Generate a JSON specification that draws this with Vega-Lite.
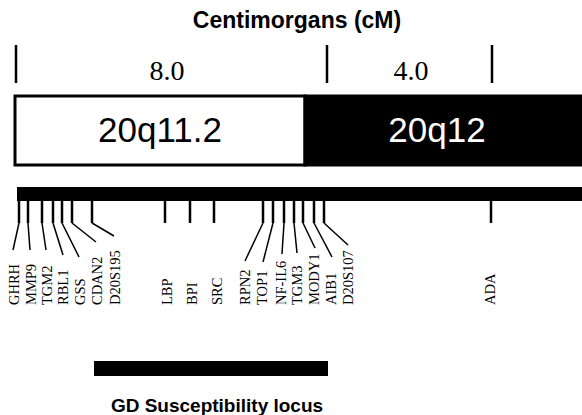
{
  "$schema": "https://vega.github.io/schema/vega-lite/v6.json",
  "width": 582,
  "height": 415,
  "padding": 0,
  "autosize": {"type": "none"},
  "background": "white",
  "config": {"view": {"stroke": null}},
  "datasets": {
    "heading": [{"label": "Centimorgans (cM)", "pos": 297}],
    "cmTicks": [{"cM": 0, "pos": 16}, {"cM": 8, "pos": 327}, {"cM": 12, "pos": 492}],
    "intervals": [{"span": "8.0", "pos": 167}, {"span": "4.0", "pos": 411}],
    "bands": [
      {"band": "20q11.2", "start": 15, "end": 305, "mid": 160},
      {"band": "20q12", "start": 305, "end": 590, "mid": 437}
    ],
    "chromosome": [{"feature": "20q", "start": 17, "end": 590}],
    "markers": [
      {"gene": "GHRH", "tick": 19, "labelPos": 15},
      {"gene": "MMP9", "tick": 28, "labelPos": 32},
      {"gene": "TGM2", "tick": 42, "labelPos": 48},
      {"gene": "RBL1", "tick": 53, "labelPos": 64},
      {"gene": "GSS", "tick": 62, "labelPos": 81},
      {"gene": "CDAN2", "tick": 72, "labelPos": 98},
      {"gene": "D20S195", "tick": 92, "labelPos": 116},
      {"gene": "LBP", "tick": 165, "labelPos": 168},
      {"gene": "BPI", "tick": 190, "labelPos": 193},
      {"gene": "SRC", "tick": 214, "labelPos": 218},
      {"gene": "RPN2", "tick": 263, "labelPos": 246},
      {"gene": "TOP1", "tick": 273, "labelPos": 263},
      {"gene": "NF-IL6", "tick": 284, "labelPos": 282},
      {"gene": "TGM3", "tick": 294, "labelPos": 298},
      {"gene": "MODY1", "tick": 303, "labelPos": 315},
      {"gene": "AIB1", "tick": 314, "labelPos": 332},
      {"gene": "D20S107", "tick": 324, "labelPos": 349},
      {"gene": "ADA", "tick": 491, "labelPos": 491}
    ],
    "leaders": [
      {"gene": "GHRH", "tick": 19, "end": 13, "bend": 250},
      {"gene": "MMP9", "tick": 28, "end": 30, "bend": 250},
      {"gene": "TGM2", "tick": 42, "end": 46, "bend": 250},
      {"gene": "RBL1", "tick": 53, "end": 63, "bend": 255},
      {"gene": "GSS", "tick": 62, "end": 79, "bend": 257},
      {"gene": "CDAN2", "tick": 72, "end": 96, "bend": 242},
      {"gene": "D20S195", "tick": 92, "end": 114, "bend": 236},
      {"gene": "RPN2", "tick": 263, "end": 245, "bend": 261},
      {"gene": "TOP1", "tick": 273, "end": 263, "bend": 262},
      {"gene": "NF-IL6", "tick": 284, "end": 282, "bend": 254},
      {"gene": "TGM3", "tick": 294, "end": 297, "bend": 253},
      {"gene": "MODY1", "tick": 303, "end": 315, "bend": 248},
      {"gene": "AIB1", "tick": 314, "end": 332, "bend": 257},
      {"gene": "D20S107", "tick": 324, "end": 348, "bend": 245}
    ],
    "locus": [{"name": "GD Susceptibility locus", "start": 94, "end": 328, "mid": 217}]
  },
  "layer": [
    {
      "data": {"name": "heading"},
      "mark": {"type": "text", "font": "Liberation Sans", "fontWeight": "bold", "fontSize": 23, "align": "center", "baseline": "alphabetic"},
      "encoding": {
        "x": {"field": "pos", "type": "quantitative", "scale": {"domain": [0, 582], "nice": false, "zero": false}, "axis": null},
        "y": {"datum": 28, "type": "quantitative", "scale": {"domain": [0, 415], "nice": false, "zero": false, "reverse": true}, "axis": null},
        "text": {"field": "label"}
      }
    },
    {
      "data": {"name": "cmTicks"},
      "mark": {"type": "rule", "color": "black", "strokeWidth": 2.5},
      "encoding": {
        "x": {"field": "pos", "type": "quantitative"},
        "y": {"datum": 45, "type": "quantitative"},
        "y2": {"datum": 83}
      }
    },
    {
      "data": {"name": "intervals"},
      "mark": {"type": "text", "font": "Liberation Serif", "fontSize": 28, "align": "center", "baseline": "alphabetic"},
      "encoding": {
        "x": {"field": "pos", "type": "quantitative"},
        "y": {"datum": 80, "type": "quantitative"},
        "text": {"field": "span"}
      }
    },
    {
      "data": {"name": "bands"},
      "mark": {"type": "rect", "stroke": "black", "strokeWidth": 3},
      "encoding": {
        "x": {"field": "start", "type": "quantitative"},
        "x2": {"field": "end"},
        "y": {"datum": 96, "type": "quantitative"},
        "y2": {"datum": 165},
        "fill": {"field": "band", "type": "nominal", "scale": {"domain": ["20q11.2", "20q12"], "range": ["white", "black"]}, "legend": null}
      }
    },
    {
      "data": {"name": "bands"},
      "mark": {"type": "text", "font": "Liberation Sans", "fontSize": 35, "align": "center", "baseline": "middle"},
      "encoding": {
        "x": {"field": "mid", "type": "quantitative"},
        "y": {"datum": 131, "type": "quantitative"},
        "text": {"field": "band"},
        "color": {"field": "band", "type": "nominal", "scale": {"domain": ["20q11.2", "20q12"], "range": ["black", "white"]}, "legend": null}
      }
    },
    {
      "data": {"name": "chromosome"},
      "mark": {"type": "rect", "color": "black"},
      "encoding": {
        "x": {"field": "start", "type": "quantitative"},
        "x2": {"field": "end"},
        "y": {"datum": 187, "type": "quantitative"},
        "y2": {"datum": 201}
      }
    },
    {
      "data": {"name": "markers"},
      "mark": {"type": "rule", "color": "black", "strokeWidth": 2.5},
      "encoding": {
        "x": {"field": "tick", "type": "quantitative"},
        "y": {"datum": 200, "type": "quantitative"},
        "y2": {"datum": 223}
      }
    },
    {
      "data": {"name": "leaders"},
      "mark": {"type": "rule", "color": "black", "strokeWidth": 1.5},
      "encoding": {
        "x": {"field": "end", "type": "quantitative"},
        "x2": {"field": "tick"},
        "y": {"field": "bend", "type": "quantitative"},
        "y2": {"datum": 223}
      }
    },
    {
      "data": {"name": "markers"},
      "mark": {"type": "text", "font": "Liberation Serif", "fontSize": 14.5, "angle": 270, "align": "left", "baseline": "middle"},
      "encoding": {
        "x": {"field": "labelPos", "type": "quantitative"},
        "y": {"datum": 305, "type": "quantitative"},
        "text": {"field": "gene"}
      }
    },
    {
      "data": {"name": "locus"},
      "mark": {"type": "rect", "color": "black"},
      "encoding": {
        "x": {"field": "start", "type": "quantitative"},
        "x2": {"field": "end"},
        "y": {"datum": 361, "type": "quantitative"},
        "y2": {"datum": 376}
      }
    },
    {
      "data": {"name": "locus"},
      "mark": {"type": "text", "font": "Liberation Sans", "fontWeight": "bold", "fontSize": 19, "align": "center", "baseline": "alphabetic"},
      "encoding": {
        "x": {"field": "mid", "type": "quantitative"},
        "y": {"datum": 412, "type": "quantitative"},
        "text": {"field": "name"}
      }
    }
  ],
  "resolve": {"scale": {"fill": "independent", "color": "independent"}}
}
